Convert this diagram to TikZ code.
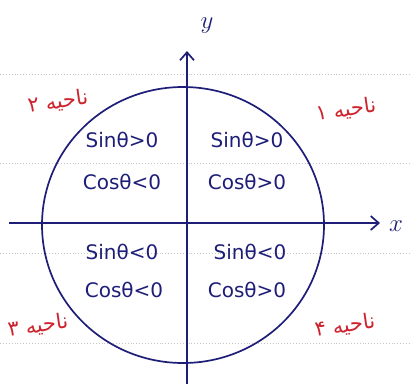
\documentclass[tikz,border=0pt]{standalone}
\usepackage{fontspec}
\setmainfont{DejaVu Sans}
\newfontfamily\arabicfont[Script=Arabic]{DejaVu Sans}
\TeXXeTstate=1
\usetikzlibrary{arrows.meta}
\definecolor{ink}{RGB}{30,30,120}
\definecolor{redink}{RGB}{205,35,45}
\tikzset{
  axisline/.style={ink, line width=1.7pt, -{Straight Barb[length=8pt,width=14pt,line width=1.7pt]}},
  quadtext/.style={ink, font=\fontsize{20}{23}\selectfont, inner sep=1pt},
  region/.style={redink, font=\fontsize{21}{24}\selectfont\arabicfont, inner sep=1pt},
  paperline/.style={gray!45, dotted, line width=0.9pt},
}
\begin{document}
\begin{tikzpicture}[x=1pt,y=-1pt]
\useasboundingbox (0,0) rectangle (412,389);
\fill[white] (0,0) rectangle (412,389);
\foreach \yy in {74,163,253,343} \draw[paperline] (0,\yy) -- (412,\yy);
\draw[ink, line width=1.7pt] (183,225) ellipse [x radius=141pt, y radius=138pt];
\coordinate (xl) at (9,223);
\coordinate (xr) at (380,223);
\coordinate (yb) at (187,384);
\coordinate (yt) at (187,51);
\draw[axisline] (xl) -- (xr);
\draw[axisline] (yb) -- (yt);
\node[ink, font=\fontsize{30}{32}\selectfont] (xlab) at (396,226) {$x$};
\node[ink, font=\fontsize{34}{36}\selectfont] (ylab) at (207,26) {$y$};
% quadrant texts
\node[quadtext] (s1) at (247,140) {Sinθ>0};
\node[quadtext] (c1) at (247,182) {Cosθ>0};
\node[quadtext] (s2) at (122,140) {Sinθ>0};
\node[quadtext] (c2) at (122,182) {Cosθ<0};
\node[quadtext] (s3) at (122,252) {Sinθ<0};
\node[quadtext] (c3) at (124,290) {Cosθ<0};
\node[quadtext] (s4) at (250,252) {Sinθ<0};
\node[quadtext] (c4) at (247,290) {Cosθ>0};
% region labels
\node[region, rotate=8] (r1) at (346,110) {\beginR ناحیه ۱\endR};
\node[region, rotate=8] (r2) at (58,102) {\beginR ناحیه ۲\endR};
\node[region, rotate=8] (r3) at (38,326) {\beginR ناحیه ۳\endR};
\node[region, rotate=8] (r4) at (345,326) {\beginR ناحیه ۴\endR};
\end{tikzpicture}
\end{document}
